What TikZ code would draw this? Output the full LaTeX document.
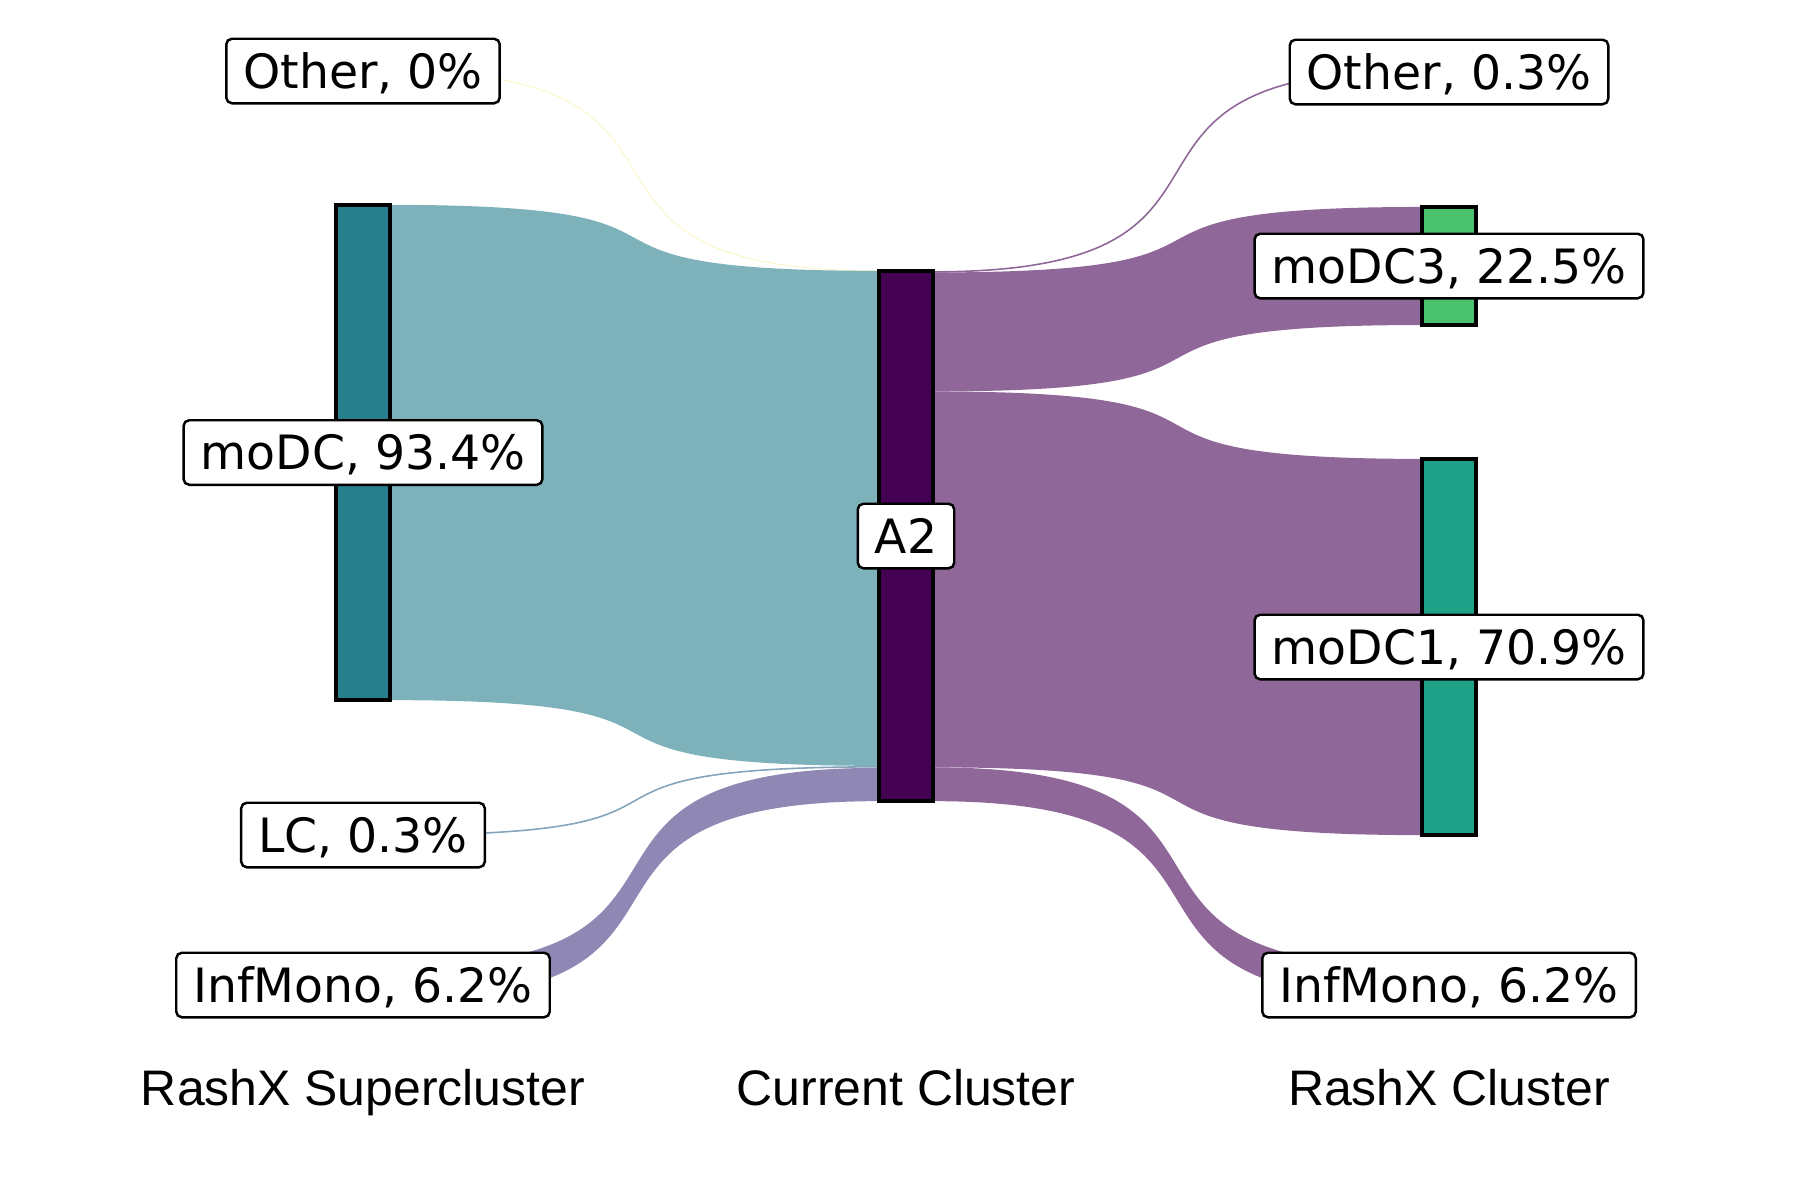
\documentclass[tikz,border=0pt]{standalone}
\usepackage{fontspec}
\setmainfont{DejaVu Sans}
\newfontfamily\axisfont{Liberation Sans}
\usetikzlibrary{calc}

\definecolor{modccol}{HTML}{277F8E}
\definecolor{atwocol}{HTML}{440154}
\definecolor{modcthreecol}{HTML}{4AC16D}
\definecolor{modconecol}{HTML}{1FA187}
\definecolor{tealflow}{HTML}{7DB2BB}
\definecolor{purpleflow}{HTML}{8F6798}
\definecolor{infmonoflow}{HTML}{8F88B5}
\definecolor{lcflow}{HTML}{83A4BB}
\definecolor{otherflow}{HTML}{FBF3B8}

\pgfdeclarelayer{flows}
\pgfsetlayers{flows,main}

\tikzset{
  bar/.style={draw=black, line width=1.1pt, minimum width=0.54cm, inner sep=0pt, outer sep=0pt},
  tag/.style={draw=black, fill=white, line width=0.7pt, rounded corners=1.6pt, inner xsep=0.17cm, inner ysep=0pt,
    minimum height=0.645cm, text height=0.34cm, text depth=0pt, font=\fontsize{13.45pt}{16pt}\selectfont},
  axis/.style={anchor=base, font=\axisfont\fontsize{14.2pt}{17pt}\selectfont},
}

% band between two columns, horizontal tangents at both ends
\newcommand\flowband[5]{\fill[#1] (#2) .. controls ($(#2)+(367,0)$) and ($(#4)+(-367,0)$) .. (#4)
  -- (#5) .. controls ($(#5)+(-367,0)$) and ($(#3)+(367,0)$) .. (#3) -- cycle;}
\newcommand\flowline[3]{\draw[#1] (#2) .. controls ($(#2)+(367,0)$) and ($(#3)+(-367,0)$) .. (#3);}

\begin{document}
\begin{tikzpicture}[x=0.01cm, y=-0.01cm]
\useasboundingbox (0,0) rectangle (1800,1200);

\node[bar, fill=modccol, minimum height=4.95cm] at (363,452.5) (modc) {};
\node[bar, fill=atwocol, minimum height=5.30cm] at (906,536) (a2) {};
\node[bar, fill=modcthreecol, minimum height=1.18cm] at (1449,266) (modc3) {};
\node[bar, fill=modconecol, minimum height=3.76cm] at (1449,647) (modc1) {};

% small nodes, hidden under their labels
\coordinate (otherL) at (390,71);
\coordinate (lcL) at (390,835);
\coordinate (infL-top) at (390,967);
\coordinate (infL-bot) at (390,1000);
\coordinate (otherR) at (1422,70);
\coordinate (infR-top) at (1422,967);
\coordinate (infR-bot) at (1422,1000);

\coordinate (a2-modc) at ($(a2.north west)+(0,495)$);
\coordinate (a2-lc) at ($(a2.north west)+(0,496)$);
\coordinate (a2-infL) at ($(a2.north west)+(0,497)$);
\coordinate (a2-otherR) at ($(a2.north east)+(0,1)$);
\coordinate (a2-r1) at ($(a2.north east)+(0,1.6)$);
\coordinate (a2-r2) at ($(a2.north east)+(0,120.6)$);
\coordinate (a2-r3) at ($(a2.north east)+(0,496.5)$);

\begin{pgfonlayer}{flows}
\flowline{otherflow, line width=0.2pt}{otherL}{a2.north west}
\flowband{tealflow}{modc.north east}{modc.south east}{a2.north west}{a2-modc}
\flowline{lcflow, line width=0.45pt}{lcL}{a2-lc}
\flowband{infmonoflow}{infL-top}{infL-bot}{a2-infL}{a2.south west}
\flowline{purpleflow, line width=0.45pt}{a2-otherR}{otherR}
\flowband{purpleflow}{a2-r1}{a2-r2}{modc3.north west}{modc3.south west}
\flowband{purpleflow}{a2-r2}{a2-r3}{modc1.north west}{modc1.south west}
\flowband{purpleflow}{a2-r3}{a2.south east}{infR-top}{infR-bot}
\end{pgfonlayer}

\node[tag] at (363,71) (otherLtag) {Other, 0\%};
\node[tag] at (modc) (modctag) {moDC, 93.4\%};
\node[tag] at (363,835) (lctag) {LC, 0.3\%};
\node[tag] at (363,985) (infLtag) {InfMono, 6.2\%};
\node[tag] at (a2) (a2tag) {A2};
\node[tag] at (1449,72) (otherRtag) {Other, 0.3\%};
\node[tag] at (modc3) (modc3tag) {moDC3, 22.5\%};
\node[tag] at (modc1) (modc1tag) {moDC1, 70.9\%};
\node[tag] at (1449,985) (infRtag) {InfMono, 6.2\%};

\node[axis] at (363,1105) (supertitle) {RashX Supercluster};
\node[axis] at (906,1105) (currenttitle) {Current Cluster};
\node[axis] at (1449,1105) (clustertitle) {RashX Cluster};
\end{tikzpicture}
\end{document}
